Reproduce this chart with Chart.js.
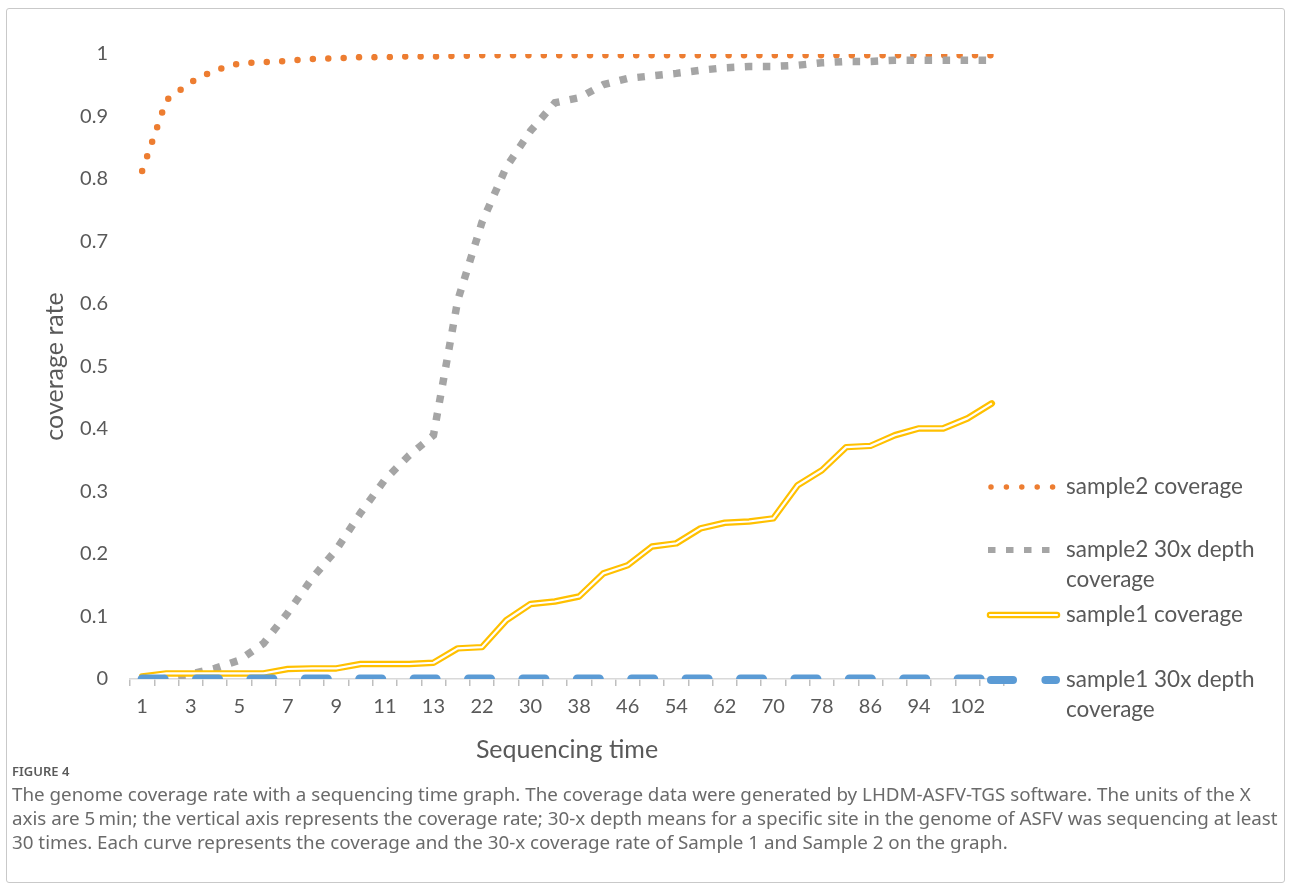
<!DOCTYPE html>
<html>
<head>
<meta charset="utf-8">
<script src="https://cdn.jsdelivr.net/npm/chart.js@4.4.1/dist/chart.umd.min.js"></script>
<style>
  body { margin: 0; background: #fff; }
  #frame { position: absolute; left: 6px; top: 8px; width: 1277px; height: 873px; border: 1px solid #c9c9c9; border-radius: 3px; }
  #chartBox { position: absolute; left: 0; top: 0; width: 1292px; height: 769px; }
  #caption { position: absolute; left: 12px; top: 760px; font-family: "Noto Sans", sans-serif; color: #6a6a6a; white-space: nowrap; }
  #caption .fig { font-size: 13px; font-weight: 600; line-height: 22px; text-transform: uppercase; color: #5a5a5a; }
  #caption .txt { font-size: 18.8px; line-height: 24px; }
</style>
</head>
<body>
<div id="frame"></div>
<div id="chartBox"><canvas id="coverageChart"></canvas></div>
<div id="caption">
  <div class="fig">Figure 4</div>
  <div class="txt">The genome coverage rate with a sequencing time graph. The coverage data were generated by LHDM-ASFV-TGS software. The units of the X<br>axis are 5&#8201;min; the vertical axis represents the coverage rate; 30-x depth means for a specific site in the genome of ASFV was sequencing at least<br>30 times. Each curve represents the coverage and the 30-x coverage rate of Sample 1 and Sample 2 on the graph.</div>
</div>
<script>
(function () {
    // Sequencing time (units of 5 min), one category per sample point
    const sequencingTime = ['1', '2', '3', '4', '5', '6', '7', '8', '9', '10', '11', '12', '13', '18',
        '22', '26', '30', '34', '38', '42', '46', '50', '54', '58', '62', '66', '70', '74', '78', '82',
        '86', '90', '94', '98', '102', '106'];

    const sample2Coverage = [0.813, 0.926, 0.955, 0.974, 0.985, 0.987, 0.989, 0.992, 0.993, 0.995,
        0.995, 0.996, 0.996, 0.997, 0.998, 0.998, 0.998, 0.998, 0.998, 0.998, 0.998, 0.998, 0.998,
        0.998, 0.998, 0.998, 0.998, 0.998, 0.998, 0.998, 0.998, 0.998, 0.998, 0.998, 0.998, 0.998];

    const sample2Depth30 = [0, 0.001, 0.008, 0.017, 0.030, 0.057, 0.106, 0.161, 0.207, 0.266,
        0.319, 0.358, 0.390, 0.606, 0.731, 0.819, 0.877, 0.922, 0.930, 0.951, 0.961, 0.965, 0.969,
        0.974, 0.978, 0.980, 0.980, 0.982, 0.986, 0.988, 0.988, 0.990, 0.990, 0.990, 0.990, 0.990];

    const sample1Coverage = [0.004, 0.009, 0.009, 0.009, 0.009, 0.009, 0.016, 0.017, 0.017, 0.024,
        0.024, 0.024, 0.026, 0.049, 0.051, 0.094, 0.120, 0.124, 0.132, 0.169, 0.182, 0.212, 0.217,
        0.241, 0.250, 0.252, 0.257, 0.310, 0.334, 0.371, 0.373, 0.390, 0.401, 0.401, 0.417, 0.441];

    const sample1Depth30 = [0, 0, 0, 0, 0, 0, 0, 0, 0, 0, 0, 0, 0, 0, 0, 0, 0, 0, 0, 0, 0, 0, 0, 0,
        0, 0, 0, 0, 0, 0, 0, 0, 0, 0, 0, 0];

    const legendLabels = [
        ['sample2 coverage'],
        ['sample2 30x depth', 'coverage'],
        ['sample1 coverage'],
        ['sample1 30x depth', 'coverage']
    ];

    const textColor = '#595959';
    const fontFamily = 'Lato, "Open Sans", sans-serif';

    const orange = { color: '#ED7D31', width: 6.5, dash: [0, 15.4], cap: 'round' };
    const gray = { color: '#A5A5A5', width: 7.5, dash: [7.5, 10.5], cap: 'butt' };
    const yellow = { color: '#FFC000', width: 6.5, core: 2.2 };
    const blue = { color: '#5B9BD5', width: 9, dash: [22, 32.4], cap: 'round' };

    // Draws the line samples and labels on the right, overlapping the plot edge like the original
    const sideLegend = {
        id: 'sideLegend',
        afterDraw(chart) {
            const ctx = chart.ctx;
            const area = chart.chartArea;
            const x0 = area.right - 17;
            const x1 = x0 + 73;
            const tx = x1 + 6;
            const rows = [area.top + 433, area.top + 496, area.top + 561, area.top + 626];
            const styles = [orange, gray, yellow, blue];

            ctx.save();
            rows.forEach((y, i) => {
                const s = styles[i];
                ctx.beginPath();
                if (s === yellow) {
                    ctx.setLineDash([]);
                    ctx.lineCap = 'round';
                    ctx.strokeStyle = yellow.color;
                    ctx.lineWidth = yellow.width;
                    ctx.moveTo(x0 + 3, y);
                    ctx.lineTo(x1 - 3, y);
                    ctx.stroke();
                    ctx.beginPath();
                    ctx.strokeStyle = '#fff';
                    ctx.lineWidth = yellow.core;
                    ctx.moveTo(x0 + 3, y);
                    ctx.lineTo(x1 - 3, y);
                    ctx.stroke();
                } else {
                    ctx.setLineDash(s.dash);
                    ctx.lineCap = s.cap;
                    ctx.strokeStyle = s.color;
                    ctx.lineWidth = s === gray ? 6 : s.width - 1;
                    const start = s.cap === 'round' ? x0 + 4 : x0 + 1;
                    ctx.moveTo(start, y);
                    ctx.lineTo(x1 - 4, y);
                    ctx.stroke();
                }

                ctx.setLineDash([]);
                ctx.fillStyle = textColor;
                ctx.font = '22.5px ' + fontFamily;
                ctx.textBaseline = 'middle';
                ctx.textAlign = 'left';
                legendLabels[i].forEach((line, k) => {
                    ctx.fillText(line, tx, y + k * 30);
                });
            });
            ctx.restore();
        }
    };

    const ctxEl = document.getElementById('coverageChart');
    new Chart(ctxEl, {
        type: 'line',
        data: {
            labels: sequencingTime,
            datasets: [
                {
                    label: 'sample1 30x depth coverage',
                    data: sample1Depth30,
                    borderColor: blue.color,
                    borderWidth: blue.width,
                    borderDash: blue.dash,
                    borderCapStyle: blue.cap,
                    clip: { left: 10, top: 10, right: 10, bottom: 0 }
                },
                {
                    label: 'sample1 coverage core',
                    data: sample1Coverage,
                    borderColor: '#fff',
                    borderWidth: yellow.core,
                    borderJoinStyle: 'round'
                },
                {
                    label: 'sample1 coverage',
                    data: sample1Coverage,
                    borderColor: yellow.color,
                    borderWidth: yellow.width,
                    borderCapStyle: 'round',
                    borderJoinStyle: 'round'
                },
                {
                    label: 'sample2 30x depth coverage',
                    data: sample2Depth30,
                    borderColor: gray.color,
                    borderWidth: gray.width,
                    borderDash: gray.dash,
                    borderCapStyle: gray.cap
                },
                {
                    label: 'sample2 coverage',
                    data: sample2Coverage,
                    borderColor: orange.color,
                    borderWidth: orange.width,
                    borderDash: orange.dash,
                    borderCapStyle: orange.cap
                }
            ]
        },
        options: {
            responsive: true,
            maintainAspectRatio: false,
            animation: false,
            layout: { padding: { left: 36, top: 54, right: 288, bottom: 0 } },
            elements: {
                point: { radius: 0, hoverRadius: 0 },
                line: { tension: 0, fill: false }
            },
            plugins: {
                legend: { display: false },
                tooltip: { enabled: false }
            },
            scales: {
                x: {
                    offset: true,
                    grid: {
                        offset: true,
                        drawOnChartArea: false,
                        drawTicks: true,
                        tickLength: 7,
                        color: '#bfbfbf',
                        lineWidth: 1.5
                    },
                    border: { color: '#d9d9d9', width: 1.5 },
                    ticks: {
                        autoSkip: false,
                        maxRotation: 0,
                        padding: 9,
                        color: textColor,
                        font: { family: fontFamily, size: 20 },
                        callback: function (value, index) {
                            return index % 2 === 0 ? this.getLabelForValue(value) : '';
                        }
                    },
                    title: {
                        display: true,
                        text: 'Sequencing time',
                        color: textColor,
                        font: { family: fontFamily, size: 25 },
                        padding: { top: 0, bottom: 4 }
                    },
                    afterFit: (scale) => { scale.height = 90; }
                },
                y: {
                    min: 0,
                    max: 1,
                    grid: { display: false, drawTicks: false },
                    border: { display: false },
                    ticks: {
                        stepSize: 0.1,
                        padding: 22,
                        color: textColor,
                        font: { family: fontFamily, size: 20 },
                        callback: (v) => String(Math.round(v * 10) / 10)
                    },
                    title: {
                        display: true,
                        text: 'coverage rate',
                        color: textColor,
                        font: { family: fontFamily, size: 25 },
                        padding: { top: 4, bottom: 4 }
                    },
                    afterFit: (scale) => { scale.width = 94; }
                }
            }
        },
        plugins: [sideLegend]
    });
}());
</script>
</body>
</html>
